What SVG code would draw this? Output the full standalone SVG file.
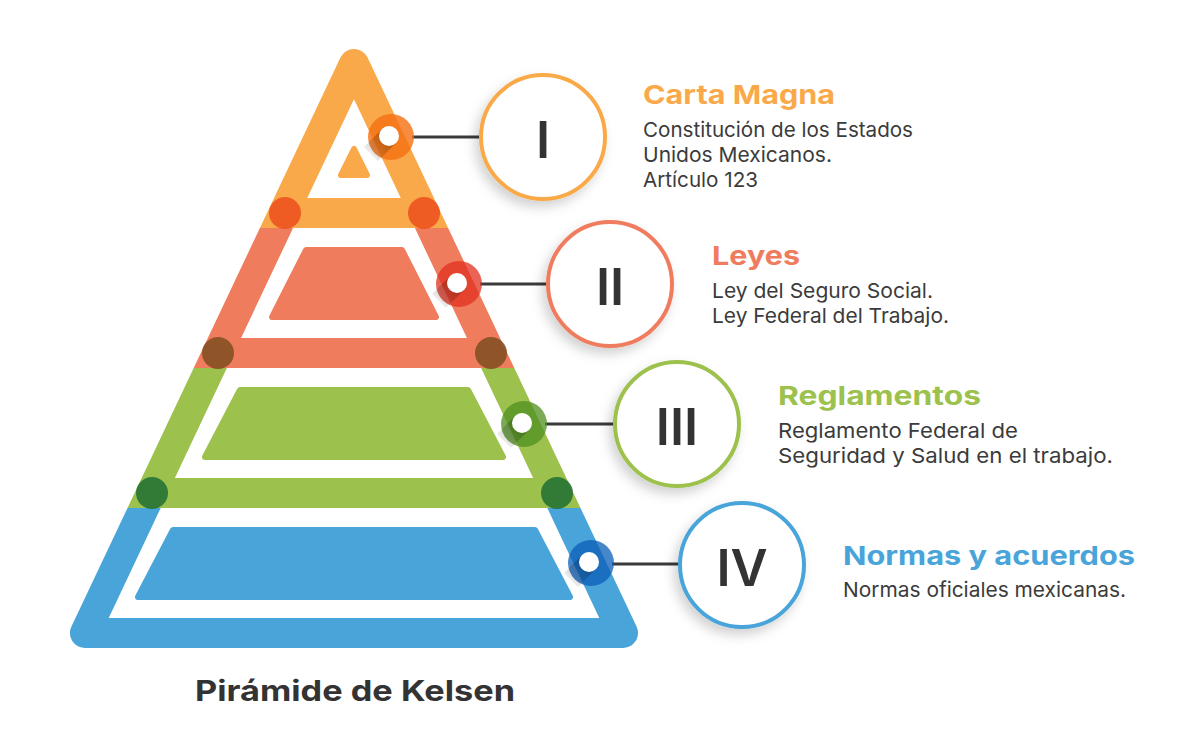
<svg xmlns="http://www.w3.org/2000/svg" width="1188" height="730" viewBox="0 0 1188 730">
<style>
.title{font-family:Inter,"Noto Sans","Liberation Sans",sans-serif;font-weight:700;font-size:26px}
.body{font-family:Inter,"Noto Sans","Liberation Sans",sans-serif;font-weight:400;font-size:20.5px;fill:#3b3b3b}
.num{font-family:Inter,"Noto Sans","Liberation Sans",sans-serif;font-weight:600;font-size:51px;fill:#333333;text-anchor:middle}
.conn{stroke:#3a3a3a;stroke-width:3;fill:none}
.ring{fill:#ffffff;stroke-width:4;filter:url(#sh)}
.tri{fill:none;stroke-width:30;stroke-linejoin:round}
.band{stroke-width:30;stroke-linecap:butt}
.inner{stroke-width:6;stroke-linejoin:round}
.joint{opacity:0.85}
.white{fill:#ffffff}
</style>
<defs>
<filter id="sh" x="-30%" y="-30%" width="160%" height="160%">
<feDropShadow dx="-4" dy="6" stdDeviation="6" flood-color="#000000" flood-opacity="0.18"/>
</filter>
<linearGradient id="dsg" x1="1" y1="0" x2="0" y2="1">
<stop offset="0" stop-color="#000000" stop-opacity="0.35"/>
<stop offset="1" stop-color="#000000" stop-opacity="0"/>
</linearGradient>
<clipPath id="cO"><rect x="0" y="0" width="1188" height="228"/></clipPath>
<clipPath id="cR"><rect x="0" y="228" width="1188" height="140"/></clipPath>
<clipPath id="cG"><rect x="0" y="368" width="1188" height="140"/></clipPath>
<clipPath id="cB"><rect x="0" y="508" width="1188" height="222"/></clipPath>
<path id="pyr" d="M354,64 L85,633 L623,633 Z"/>
<polygon id="dsh" points="-7,-7 7,7 -11,25 -25,11" fill="url(#dsg)"/>
</defs>
<rect width="1188" height="730" fill="#ffffff"/>

<g id="pyramid">
<g id="level-1">
<use href="#pyr" class="tri" stroke="#FAA94A" clip-path="url(#cO)"/>
<line x1="284" y1="213" x2="425" y2="213" class="band" stroke="#FAA94A"/>
<polygon points="354,149 341,175 367,175" class="inner" fill="#FAA94A" stroke="#FAA94A"/>
</g>
<g id="level-2">
<use href="#pyr" class="tri" stroke="#F07C5E" clip-path="url(#cR)"/>
<line x1="218" y1="353" x2="492" y2="353" class="band" stroke="#F07C5E"/>
<polygon points="306,250 402,250 436,317 272,317" class="inner" fill="#F07C5E" stroke="#F07C5E"/>
</g>
<g id="level-3">
<use href="#pyr" class="tri" stroke="#9CC14D" clip-path="url(#cG)"/>
<line x1="152" y1="493" x2="557" y2="493" class="band" stroke="#9CC14D"/>
<polygon points="240,390 468,390 503,457 205,457" class="inner" fill="#9CC14D" stroke="#9CC14D"/>
</g>
<g id="level-4">
<use href="#pyr" class="tri" stroke="#49A4DA" clip-path="url(#cB)"/>
<polygon points="173,530 535,530 570,597 138,597" class="inner" fill="#49A4DA" stroke="#49A4DA"/>
</g>
<g id="joints">
<circle cx="285" cy="213" r="16" fill="#EB4F1C" class="joint"/>
<circle cx="424" cy="213" r="16" fill="#EB4F1C" class="joint"/>
<circle cx="218" cy="353" r="16" fill="#7E4E1E" class="joint"/>
<circle cx="491" cy="353" r="16" fill="#7E4E1E" class="joint"/>
<circle cx="152" cy="493" r="16" fill="#1F6E34" class="joint"/>
<circle cx="557" cy="493" r="16" fill="#1F6E34" class="joint"/>
</g>
</g>

<g id="connectors">
<line x1="412" y1="137" x2="480" y2="137" class="conn"/>
<line x1="480" y1="284" x2="548" y2="284" class="conn"/>
<line x1="545" y1="424" x2="614" y2="424" class="conn"/>
<line x1="612" y1="564" x2="680" y2="564" class="conn"/>
<g id="dot-1">
<circle cx="391" cy="137" r="23" fill="#F56F12" opacity="0.8"/>
<use href="#dsh" x="389" y="136"/>
<circle cx="389" cy="136" r="10" class="white"/>
</g>
<g id="dot-2">
<circle cx="459" cy="284" r="23" fill="#E2301E" opacity="0.75"/>
<use href="#dsh" x="457" y="283"/>
<circle cx="457" cy="283" r="10" class="white"/>
</g>
<g id="dot-3">
<circle cx="524" cy="424" r="23" fill="#4F8F1F" opacity="0.75"/>
<use href="#dsh" x="522" y="423"/>
<circle cx="522" cy="423" r="10" class="white"/>
</g>
<g id="dot-4">
<circle cx="591" cy="563" r="23" fill="#0B5DB8" opacity="0.75"/>
<use href="#dsh" x="589" y="562"/>
<circle cx="589" cy="562" r="10" class="white"/>
</g>
</g>

<g id="node-1">
<circle cx="543" cy="137" r="62" class="ring" stroke="#FAA94A"/>
<text x="543" y="158" class="num">I</text>
<text x="643" y="104" class="title" fill="#FAA94A" textLength="192" lengthAdjust="spacingAndGlyphs">Carta Magna</text>
<text x="643" y="137" class="body" textLength="270" lengthAdjust="spacingAndGlyphs">Constitución de los Estados</text>
<text x="643" y="162" class="body" textLength="189" lengthAdjust="spacingAndGlyphs">Unidos Mexicanos.</text>
<text x="643" y="187" class="body" textLength="115" lengthAdjust="spacingAndGlyphs">Artículo 123</text>
</g>
<g id="node-2">
<circle cx="610" cy="284" r="62" class="ring" stroke="#F07C5E"/>
<text x="610" y="305" class="num">II</text>
<text x="712" y="265" class="title" fill="#F07C5E" textLength="88" lengthAdjust="spacingAndGlyphs">Leyes</text>
<text x="712" y="298" class="body" textLength="221" lengthAdjust="spacingAndGlyphs">Ley del Seguro Social.</text>
<text x="712" y="323" class="body" textLength="237" lengthAdjust="spacingAndGlyphs">Ley Federal del Trabajo.</text>
</g>
<g id="node-3">
<circle cx="677" cy="424" r="62" class="ring" stroke="#9CC14D"/>
<text x="677" y="445" class="num">III</text>
<text x="778" y="405" class="title" fill="#9CC14D" textLength="203" lengthAdjust="spacingAndGlyphs">Reglamentos</text>
<text x="778" y="438" class="body" textLength="240" lengthAdjust="spacingAndGlyphs">Reglamento Federal de</text>
<text x="778" y="463" class="body" textLength="335" lengthAdjust="spacingAndGlyphs">Seguridad y Salud en el trabajo.</text>
</g>
<g id="node-4">
<circle cx="742" cy="565" r="62" class="ring" stroke="#49A4DA"/>
<text x="742" y="586" class="num">IV</text>
<text x="843" y="565" class="title" fill="#49A4DA" textLength="292" lengthAdjust="spacingAndGlyphs">Normas y acuerdos</text>
<text x="843" y="597" class="body" textLength="283" lengthAdjust="spacingAndGlyphs">Normas oficiales mexicanas.</text>
</g>

<g id="caption">
<text x="195" y="701" class="title" style="font-size:29px" fill="#333333" textLength="320" lengthAdjust="spacingAndGlyphs">Pirámide de Kelsen</text>
</g>
</svg>
